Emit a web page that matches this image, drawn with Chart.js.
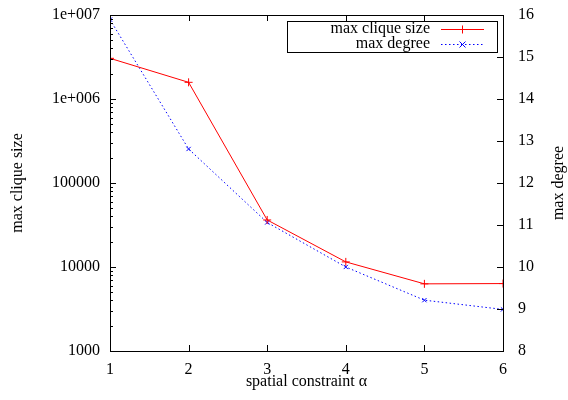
<!DOCTYPE html>
<html>
<head>
<meta charset="utf-8">
<script src="https://cdn.jsdelivr.net/npm/chart.js@4"></script>
<style>
  html, body { margin: 0; padding: 0; background: #fff; }
  #wrap { width: 568px; height: 400px; }
</style>
</head>
<body>
<div id="wrap"><canvas id="chart" width="568" height="400"></canvas></div>
<script>
const alpha = [1, 2, 3, 4, 5, 6];
const cliqueSize = [3050000, 1580000, 36300, 11500, 6300, 6350];
const maxDegree = [15.89, 12.81, 11.06, 10.0, 9.21, 8.99];
const leftTicks = [1000, 10000, 100000, 1000000, 10000000];
const leftLabels = ['1000', '10000', '100000', '1e+006', '1e+007'];
const rightTicks = [8, 9, 10, 11, 12, 13, 14, 15, 16];

const FONT = '16px "Liberation Serif"';
const tickFont = { family: '"Liberation Serif"', size: 16 };

// gnuplot-like frame, inward ticks, titles and legend box
const gnuplotDeco = {
  id: 'gnuplotDeco',
  afterDraw(chart) {
    const c = chart.ctx;
    const a = chart.chartArea;
    const x = chart.scales.x, y = chart.scales.y, y2 = chart.scales.y2;
    c.save();
    c.strokeStyle = '#000';
    c.lineWidth = 1;
    c.beginPath();
    // x ticks bottom + top
    alpha.forEach(v => {
      const px = Math.round(x.getPixelForValue(v)) + 0.5;
      c.moveTo(px, a.bottom); c.lineTo(px, a.bottom - 6);
      c.moveTo(px, a.top); c.lineTo(px, a.top + 6);
    });
    // left log ticks
    for (let d = 1000; d <= 1e7; d *= 10) {
      for (let m = 1; m < 10; m++) {
        const v = d * m;
        if (v > 1e7) break;
        const py = Math.round(y.getPixelForValue(v)) + 0.5;
        c.moveTo(a.left, py); c.lineTo(a.left + (m === 1 ? 6 : 3), py);
      }
    }
    // right ticks
    rightTicks.forEach(v => {
      const py = Math.round(y2.getPixelForValue(v)) + 0.5;
      c.moveTo(a.right, py); c.lineTo(a.right - 6, py);
    });
    c.stroke();
    c.strokeRect(Math.round(a.left) + 0.5, Math.round(a.top) + 0.5,
      Math.round(a.right - a.left), Math.round(a.bottom - a.top));

    // axis titles
    c.fillStyle = '#000';
    c.font = FONT;
    c.textAlign = 'center';
    c.textBaseline = 'middle';
    c.fillText('spatial constraint \u03b1', (a.left + a.right) / 2, 382);
    c.save();
    c.translate(18, (a.top + a.bottom) / 2);
    c.rotate(-Math.PI / 2);
    c.fillText('max clique size', 0, 0);
    c.restore();
    c.save();
    c.translate(559, (a.top + a.bottom) / 2);
    c.rotate(-Math.PI / 2);
    c.fillText('max degree', 0, 0);
    c.restore();

    // legend
    c.strokeRect(287.5, 21.5, 210, 31);
    c.textAlign = 'right';
    chart.data.datasets.forEach((ds, i) => {
      const ly = 29 + i * 15;
      c.fillStyle = '#000';
      c.fillText(ds.label, 430, ly);
      c.beginPath();
      c.strokeStyle = ds.borderColor;
      c.setLineDash(ds.borderDash || []);
      c.moveTo(441, ly + 0.5); c.lineTo(484, ly + 0.5);
      c.stroke();
      c.setLineDash([]);
      c.beginPath();
      const r = ds.pointRadius;
      if (ds.pointStyle === 'cross') {
        c.moveTo(462.5 - r, ly + 0.5); c.lineTo(462.5 + r, ly + 0.5);
        c.moveTo(462.5, ly - r + 0.5); c.lineTo(462.5, ly + r + 0.5);
      } else {
        c.moveTo(462.5 - r, ly - r + 0.5); c.lineTo(462.5 + r, ly + r + 0.5);
        c.moveTo(462.5 - r, ly + r + 0.5); c.lineTo(462.5 + r, ly - r + 0.5);
      }
      c.stroke();
    });
    c.restore();
  }
};

const noPad = s => { s.paddingTop = 0; s.paddingBottom = 0; s.paddingLeft = 0; s.paddingRight = 0; };

new Chart(document.getElementById('chart'), {
  type: 'line',
  data: {
    datasets: [{
      label: 'max clique size',
      data: alpha.map((v, i) => ({ x: v, y: cliqueSize[i] })),
      yAxisID: 'y',
      borderColor: '#ff0000',
      backgroundColor: '#ff0000',
      borderWidth: 1,
      pointStyle: 'cross',
      pointRadius: 4,
      pointBorderWidth: 1,
      pointBorderColor: '#ff0000',
      tension: 0
    }, {
      label: 'max degree',
      data: alpha.map((v, i) => ({ x: v, y: maxDegree[i] })),
      yAxisID: 'y2',
      borderColor: '#0000ff',
      backgroundColor: '#0000ff',
      borderWidth: 1,
      borderDash: [1.5, 2.5],
      pointStyle: 'crossRot',
      pointRadius: 3,
      pointBorderWidth: 1,
      pointBorderColor: '#0000ff',
      tension: 0
    }]
  },
  options: {
    responsive: false,
    animation: false,
    layout: { padding: { top: 15, right: 0, left: 0, bottom: 0 } },
    plugins: { legend: { display: false }, tooltip: { enabled: false } },
    scales: {
      x: {
        type: 'linear',
        min: 1, max: 6,
        grid: { display: false, drawTicks: false },
        border: { display: false },
        ticks: { stepSize: 1, padding: 9, color: '#000', font: tickFont, maxRotation: 0 },
        afterFit: s => { s.height = 49; noPad(s); }
      },
      y: {
        type: 'logarithmic',
        position: 'left',
        min: 1000, max: 10000000,
        grid: { display: false, drawTicks: false },
        border: { display: false },
        afterBuildTicks: s => { s.ticks = leftTicks.map(v => ({ value: v })); },
        ticks: {
          padding: 10, color: '#000', font: tickFont,
          callback: v => leftLabels[leftTicks.indexOf(v)]
        },
        afterFit: s => { s.width = 110; noPad(s); }
      },
      y2: {
        type: 'linear',
        position: 'right',
        min: 8, max: 16,
        grid: { display: false, drawTicks: false },
        border: { display: false },
        ticks: { stepSize: 1, padding: 15, color: '#000', font: tickFont },
        afterFit: s => { s.width = 65; noPad(s); }
      }
    }
  },
  plugins: [gnuplotDeco]
});
</script>
</body>
</html>
